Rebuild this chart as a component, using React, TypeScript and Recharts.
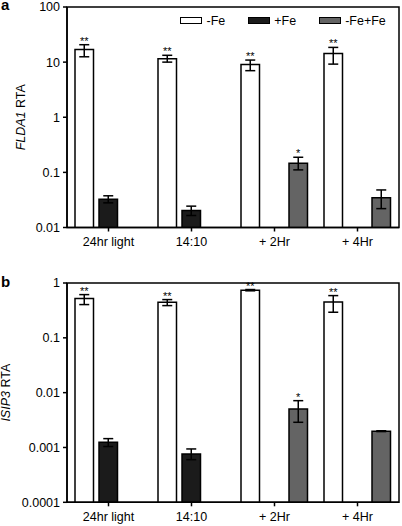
import React from "react";
import { BarChart, Bar, XAxis, YAxis, ErrorBar, LabelList, Legend, ReferenceArea } from "recharts";

const FONT = "'Liberation Sans', Arial, Helvetica, sans-serif";

const conditions = ["24hr light", "14:10", "+ 2Hr", "+ 4Hr"];
const seriesNames = ["-Fe", "+Fe", "-Fe+Fe"];
const seriesColors = ["#ffffff", "#1b1b1b", "#646464"];

// panel a: FLDA1
const fldaMinusFe = [17, 11.5, 9.1, 14.4];
const fldaMinusFeLow = [12.5, 10, 7.0, 9.2];
const fldaMinusFeHigh = [20.7, 13.3, 10.9, 18.5];
const fldaPlusFe = [0.0327, 0.0203, null, null];
const fldaPlusFeLow = [0.028, 0.0165, null, null];
const fldaPlusFeHigh = [0.0376, 0.0244, null, null];
const fldaMixFe = [null, null, 0.147, 0.0345];
const fldaMixFeLow = [null, null, 0.111, 0.022];
const fldaMixFeHigh = [null, null, 0.188, 0.048];
const fldaMinusSig = ["**", "**", "**", "**"];
const fldaMixSig = ["", "", "*", ""];
const fldaTicks = [0.01, 0.1, 1, 10, 100];

// panel b: ISIP3
const isipMinusFe = [0.519, 0.447, 0.739, 0.452];
const isipMinusFeLow = [0.404, 0.387, 0.72, 0.293];
const isipMinusFeHigh = [0.614, 0.498, 0.76, 0.589];
const isipPlusFe = [0.00124, 0.00076, null, null];
const isipPlusFeLow = [0.00104, 0.0006, null, null];
const isipPlusFeHigh = [0.00145, 0.00094, null, null];
const isipMixFe = [null, null, 0.00505, 0.00198];
const isipMixFeLow = [null, null, 0.00288, 0.00195];
const isipMixFeHigh = [null, null, 0.00714, 0.00202];
const isipMinusSig = ["**", "**", "**", "**"];
const isipMixSig = ["", "", "*", ""];
const isipTicks = [0.0001, 0.001, 0.01, 0.1, 1];

const err = (v: number | null, lo: number | null, hi: number | null) =>
  v == null || lo == null || hi == null ? null : [v - lo, hi - v];

function buildRows(m: any[], mLo: any[], mHi: any[], p: any[], pLo: any[], pHi: any[], x: any[], xLo: any[], xHi: any[], mSig: string[], xSig: string[]) {
  return conditions.map((c, i) => ({
    condition: c,
    minus: m[i],
    minusErr: err(m[i], mLo[i], mHi[i]),
    minusSig: mSig[i] ? { sig: mSig[i], v: m[i], hi: mHi[i] } : null,
    plus: p[i],
    plusErr: err(p[i], pLo[i], pHi[i]),
    mix: x[i],
    mixErr: err(x[i], xLo[i], xHi[i]),
    mixSig: xSig[i] ? { sig: xSig[i], v: x[i], hi: xHi[i] } : null,
  }));
}

const fldaRows = buildRows(
  fldaMinusFe, fldaMinusFeLow, fldaMinusFeHigh,
  fldaPlusFe, fldaPlusFeLow, fldaPlusFeHigh,
  fldaMixFe, fldaMixFeLow, fldaMixFeHigh,
  fldaMinusSig, fldaMixSig
);
const isipRows = buildRows(
  isipMinusFe, isipMinusFeLow, isipMinusFeHigh,
  isipPlusFe, isipPlusFeLow, isipPlusFeHigh,
  isipMixFe, isipMixFeLow, isipMixFeHigh,
  isipMinusSig, isipMixSig
);

// star sits just above the error bar; bar geometry gives pixels per decade on the log axis
function sigLabel(base: number) {
  return (props: any) => {
    const mark = props.value;
    if (!mark || !mark.sig) return null;
    const vb = props.viewBox ?? props;
    const perDecade = vb.height / Math.log10(mark.v / base);
    const top = vb.y - perDecade * Math.log10(mark.hi / mark.v);
    return (
      <text x={vb.x + vb.width / 2} y={top} textAnchor="middle" fontSize={11} fontFamily={FONT} fill="#000">
        {mark.sig}
      </text>
    );
  };
}

function axisTitle(gene: string, baselineX: number) {
  return (props: any) => {
    const vb = props.viewBox;
    const cy = vb.y + vb.height / 2;
    return (
      <text
        x={baselineX}
        y={cy}
        transform={`rotate(-90 ${baselineX} ${cy})`}
        textAnchor="middle"
        fontSize={12.5}
        fontFamily={FONT}
        fill="#000"
      >
        <tspan fontStyle="italic">{gene}</tspan>
        <tspan> RTA</tspan>
      </text>
    );
  };
}

function IronLegend({ payload }: any) {
  const items = [...(payload || [])].sort(
    (a: any, b: any) => seriesNames.indexOf(a.value) - seriesNames.indexOf(b.value)
  );
  return (
    <div style={{ display: "flex", fontFamily: FONT, fontSize: 12.5, lineHeight: "12.5px", color: "#000" }}>
      {items.map((p: any) => (
        <div key={p.value} style={{ display: "flex", alignItems: "center", marginRight: 22.5 }}>
          <span style={{ width: 20, height: 5, border: "1.5px solid #000", background: p.color, marginRight: 4.5 }} />
          <span>{p.value}</span>
        </div>
      ))}
    </div>
  );
}

const axisStroke = { stroke: "#000", strokeWidth: 1.5 };
const tickText = { fill: "#000", fontSize: 12.5, fontFamily: FONT };

function Panel({ rows, ticks, gene, titleX, top, xHeight, legend }: any) {
  const base = ticks[0];
  return (
    <BarChart
      width={402}
      height={263}
      data={rows}
      margin={{ top, right: 3, bottom: 0, left: 0 }}
      barGap={5.5}
    >
      <XAxis
        dataKey="condition"
        interval={0}
        height={xHeight}
        tickSize={4}
        tickMargin={6}
        tick={tickText}
        tickLine={axisStroke}
        axisLine={axisStroke}
      />
      <YAxis
        scale="log"
        domain={[ticks[0], ticks[ticks.length - 1]]}
        ticks={ticks}
        allowDataOverflow
        interval={0}
        width={67}
        tickSize={4}
        tickMargin={3}
        tick={tickText}
        tickLine={axisStroke}
        axisLine={axisStroke}
        tickFormatter={(v: number) => String(v)}
        label={{ content: axisTitle(gene, titleX) }}
      />
      <ReferenceArea y1={ticks[0]} y2={ticks[ticks.length - 1]} fill="none" stroke="#000" strokeWidth={1.5} />
      {legend && (
        <Legend
          layout="horizontal"
          verticalAlign="middle"
          align="center"
          wrapperStyle={{ top: 14.5, left: 180, width: 230 }}
          content={(p: any) => <IronLegend payload={p.payload} />}
        />
      )}
      <Bar dataKey="minus" name={seriesNames[0]} fill={seriesColors[0]} stroke="#000" strokeWidth={1.5} barSize={18.5} isAnimationActive={false}>
        <ErrorBar dataKey="minusErr" width={5} stroke="#000" strokeWidth={1.5} direction="y" />
        <LabelList dataKey="minusSig" content={sigLabel(base)} />
      </Bar>
      <Bar dataKey="plus" name={seriesNames[1]} fill={seriesColors[1]} stroke="#000" strokeWidth={1.5} barSize={18.5} isAnimationActive={false}>
        <ErrorBar dataKey="plusErr" width={5} stroke="#000" strokeWidth={1.5} direction="y" />
      </Bar>
      <Bar dataKey="mix" name={seriesNames[2]} fill={seriesColors[2]} stroke="#000" strokeWidth={1.5} barSize={18.5} isAnimationActive={false}>
        <ErrorBar dataKey="mixErr" width={5} stroke="#000" strokeWidth={1.5} direction="y" />
        <LabelList dataKey="mixSig" content={sigLabel(base)} />
      </Bar>
    </BarChart>
  );
}

const panelLetter: React.CSSProperties = {
  position: "absolute",
  left: 1,
  fontFamily: FONT,
  fontWeight: "bold",
  fontSize: 15,
  lineHeight: "10px",
  color: "#000",
};

export default function App() {
  return (
    <div style={{ position: "absolute", left: 0, top: 0, width: 402, height: 526, background: "#fff" }}>
      <div style={{ position: "absolute", left: 0, top: 0 }}>
        <Panel rows={fldaRows} ticks={fldaTicks} gene="FLDA1" titleX={25} top={7} xHeight={35.5} legend />
      </div>
      <div style={{ position: "absolute", left: 0, top: 263 }}>
        <Panel rows={isipRows} ticks={isipTicks} gene="ISIP3" titleX={10} top={20} xHeight={23.7} legend={false} />
      </div>
      <div style={{ ...panelLetter, top: 0 }}>a</div>
      <div style={{ ...panelLetter, top: 276.8 }}>b</div>
    </div>
  );
}
